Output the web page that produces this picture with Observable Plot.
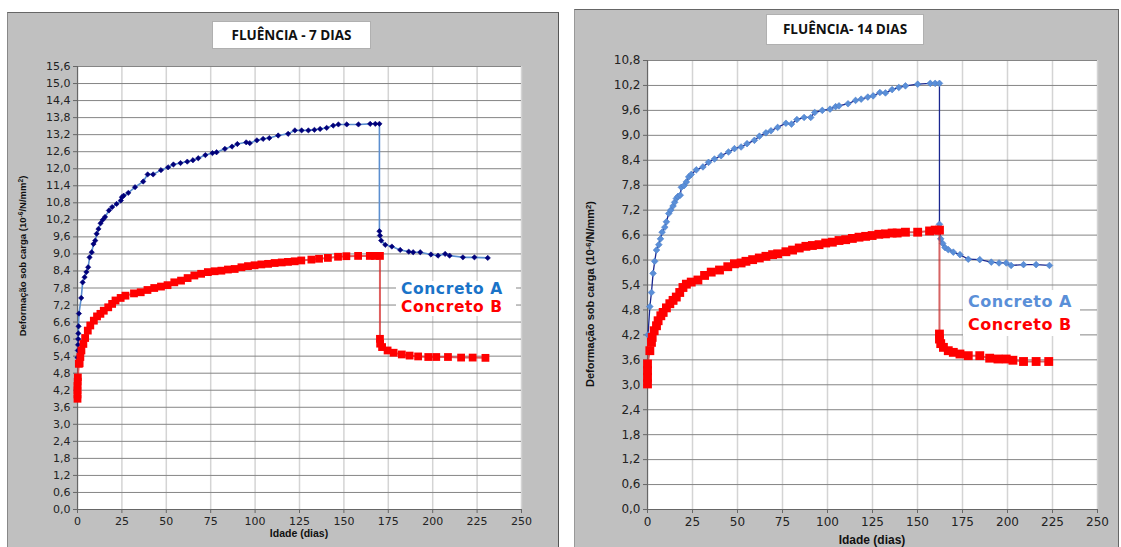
<!DOCTYPE html>
<html>
<head>
<meta charset="utf-8">
<script src="https://cdn.jsdelivr.net/npm/d3@7"></script>
<script src="https://cdn.jsdelivr.net/npm/@observablehq/plot@0.6"></script>
<style>
  html, body { margin: 0; padding: 0; background: #fff; width: 1121px; height: 547px; overflow: hidden; }
  .panel { position: absolute; background: #c0c0c0; box-sizing: border-box; }
  .panel svg { position: absolute; left: 0; top: 0; }
  .abs { position: absolute; white-space: nowrap; }
  .title { background: #fff; border: 1px solid #b0b0b0; font-family: "Open Sans", sans-serif; font-weight: 700; color: #111; text-align: center; box-sizing: border-box; }
  .ylab { font-family: "Liberation Sans", Arial, sans-serif; font-weight: 700; color: #111; transform: translate(-50%, -50%) rotate(-90deg); }
  .xlab { font-family: "Liberation Sans", Arial, sans-serif; font-weight: 700; color: #111; transform: translate(-50%, -50%); }
  .legend { background: #fff; font-family: "DejaVu Sans", sans-serif; font-weight: 700; box-sizing: border-box; padding-left: 5px; }
  sup { font-size: 70%; vertical-align: 0.45em; line-height: 0; }
</style>
</head>
<body>
<div id="p7" class="panel" style="left:7px; top:12px; width:552px; height:540px; border:1px solid #555; border-left-color:#888; border-top-color:#666;"></div>
<div id="p14" class="panel" style="left:574px; top:9px; width:545px; height:545px; border:1px solid #666; border-left-color:#999;"></div>

<div class="abs title" style="left:212px; top:21px; width:159px; height:28px; line-height:26px; font-size:13.5px;">FLUÊNCIA - 7 DIAS</div>
<div class="abs title" style="left:766px; top:14px; width:158px; height:31px; line-height:29px; font-size:13.5px;">FLUÊNCIA- 14 DIAS</div>

<div class="abs ylab" style="left:22px; top:256px; font-size:9.5px;">Deformação sob carga (10<sup>-6</sup>/N/mm<sup>2</sup>)</div>
<div class="abs ylab" style="left:590px; top:294px; font-size:11px;">Deformação sob carga (10<sup>-6</sup>/N/mm<sup>2</sup>)</div>

<div class="abs xlab" style="left:299px; top:533px; font-size:10.5px;">Idade (dias)</div>
<div class="abs xlab" style="left:872px; top:540px; font-size:12px;">Idade (dias)</div>

<div class="abs legend" style="left:396px; top:281px; width:120px; height:35px; font-size:15.5px; line-height:17.5px; letter-spacing:0.6px;">
  <div style="color:#1a73c8;">Concreto A</div>
  <div style="color:#ff0000;">Concreto B</div>
</div>
<div class="abs legend" style="left:963px; top:290px; width:117px; height:46px; font-size:16px; line-height:23px; letter-spacing:0.5px;">
  <div style="color:#5a8fd8;">Concreto A</div>
  <div style="color:#ff0000;">Concreto B</div>
</div>

<script>
// ---------- data: [idade (dias), deformação] ----------
const concretoA7 = [[0,5.35],[0.2,5.6],[0.3,5.8],[0.4,6.0],[0.5,6.2],[0.6,6.45],[0.8,6.9],[2.1,7.45],[2.9,8.0],[4,8.18],[5,8.36],[6,8.53],[6.8,8.88],[8,9.06],[9,9.35],[10,9.47],[10.8,9.71],[11.8,9.88],[13,10.08],[14.2,10.2],[15.5,10.3],[17.7,10.53],[19.5,10.65],[22,10.76],[24.4,10.88],[25,11.0],[26,11.05],[28.6,11.15],[32.4,11.35],[37,11.55],[39.5,11.8],[42.6,11.8],[47,11.95],[51,12.05],[54,12.15],[58,12.2],[61.8,12.25],[65,12.3],[68,12.37],[72,12.48],[76,12.55],[78.3,12.58],[83,12.7],[87,12.78],[90,12.87],[95,12.93],[97,12.9],[101,13.0],[104.5,13.05],[108,13.08],[113,13.17],[118.6,13.23],[122.4,13.35],[126.2,13.35],[130,13.35],[133.4,13.37],[136.6,13.4],[140.3,13.44],[144,13.52],[146.9,13.56],[151.6,13.56],[158.2,13.56],[164.8,13.58],[167.7,13.58],[170,13.58],[170,9.8],[170.3,9.65],[171,9.47],[173.3,9.32],[177,9.26],[181.7,9.14],[186.5,9.08],[189,9.06],[193,9.06],[199,8.98],[203,8.94],[207,9.0],[209.5,8.94],[217,8.88],[223.5,8.88],[231,8.86]];

const concretoB7 = [[0,3.9],[0,4.05],[0,4.2],[0,4.35],[0.1,4.5],[0.2,4.65],[0.75,5.13],[1.2,5.15],[1.6,5.37],[2.2,5.6],[3.3,5.83],[4.3,6.04],[5.8,6.3],[7.2,6.48],[9.2,6.65],[11,6.8],[12.9,6.89],[14.8,7.0],[17.3,7.12],[19.5,7.24],[21.4,7.36],[24.3,7.45],[27,7.53],[31.8,7.61],[35.6,7.65],[39.4,7.73],[43.2,7.8],[47,7.85],[50.7,7.9],[54.5,8.0],[58.3,8.06],[62,8.15],[65.8,8.24],[69.6,8.3],[73.4,8.36],[77.2,8.39],[81,8.41],[84.7,8.45],[88.5,8.47],[92.3,8.53],[96,8.57],[99.7,8.6],[103.5,8.63],[107.3,8.65],[111,8.68],[115,8.7],[118.5,8.72],[122.3,8.74],[126,8.77],[131.7,8.8],[136,8.83],[141,8.86],[146.7,8.9],[151.4,8.92],[158,8.93],[164.6,8.93],[167.5,8.93],[170.3,8.93],[170.3,6.01],[170.4,5.84],[171.5,5.72],[174.6,5.6],[178,5.52],[182.6,5.46],[187,5.42],[191.8,5.39],[197.5,5.37],[202,5.37],[208.6,5.37],[216,5.35],[222.5,5.35],[229.7,5.34]];

const concretoA14 = [[0.3,4.2],[1.3,4.88],[2.2,5.22],[3.1,5.68],[4,5.97],[5,6.24],[6.3,6.37],[7.2,6.51],[8.1,6.67],[9.6,6.79],[10.5,6.92],[11.8,7.12],[12.9,7.2],[14.2,7.3],[15.1,7.39],[16,7.48],[16.9,7.53],[18.2,7.56],[18.8,7.75],[20.3,7.79],[21.6,7.88],[22.9,8.0],[24.3,8.06],[27.1,8.17],[30.8,8.24],[33.9,8.35],[37.2,8.43],[40.9,8.51],[45,8.6],[48.3,8.68],[52,8.72],[55.3,8.8],[59.4,8.88],[62.2,8.98],[65.8,9.06],[68.6,9.11],[72.3,9.19],[76.9,9.29],[80,9.27],[83,9.38],[87,9.43],[90.7,9.43],[92.9,9.55],[97.1,9.6],[101.4,9.63],[104.5,9.69],[106.4,9.71],[111.4,9.76],[115.6,9.84],[118.7,9.87],[122.4,9.92],[125.4,9.95],[129.1,10.03],[132.2,10.02],[135.9,10.1],[139.6,10.15],[143.3,10.19],[150.1,10.23],[157.1,10.25],[159.8,10.25],[162.2,10.25],[162.2,6.86],[162.9,6.51],[164,6.4],[165.3,6.3],[167.1,6.25],[169.9,6.19],[173.6,6.13],[178.2,6.02],[184.6,6.01],[191,5.95],[195.3,5.93],[199.3,5.93],[202,5.87],[208.9,5.89],[215.9,5.89],[223.3,5.87]];

const concretoB14 = [[0,3.02],[0,3.18],[0,3.34],[0,3.5],[1.3,3.82],[2.2,4.02],[2.6,4.14],[3.7,4.3],[5,4.42],[5.9,4.54],[7.4,4.66],[8.7,4.74],[10.5,4.85],[12.4,4.95],[14.2,5.03],[16,5.11],[17.9,5.22],[19.7,5.34],[21.6,5.42],[24.3,5.47],[28,5.52],[31.7,5.63],[35.4,5.71],[40,5.76],[44.6,5.84],[48.3,5.91],[52,5.93],[54.7,5.97],[58.4,6.01],[62.1,6.05],[65.8,6.09],[69.5,6.13],[72.3,6.15],[76.9,6.2],[80.6,6.24],[84.3,6.29],[88,6.33],[91.6,6.35],[95.3,6.37],[99,6.41],[102.7,6.43],[106.4,6.47],[110.1,6.49],[113.8,6.52],[117.5,6.55],[121.2,6.57],[124.8,6.59],[128.5,6.62],[132.2,6.63],[135.9,6.65],[138.7,6.65],[143.3,6.67],[150.1,6.67],[156.7,6.7],[159.8,6.72],[162.2,6.72],[162.2,4.22],[162.2,4.1],[162.9,3.99],[164.4,3.9],[167.1,3.82],[169.9,3.78],[173.6,3.74],[178.2,3.7],[184.6,3.7],[190.1,3.64],[194.7,3.62],[199.3,3.62],[203,3.59],[208.9,3.56],[215.9,3.56],[222.9,3.56]];

// ---------- ticks ----------
const xTicks = [0, 25, 50, 75, 100, 125, 150, 175, 200, 225, 250];
const yTicks7 = [0,6,12,18,24,30,36,42,48,54,60,66,72,78,84,90,96,102,108,114,120,126,132,138,144,150,156].map(v => v / 10);
const yTicks14 = [0,6,12,18,24,30,36,42,48,54,60,66,72,78,84,90,96,102,108].map(v => v / 10);

const fmt = d => d.toFixed(1).replace(".", ",");

function chart(o) {
  const t = d => d[0], v = d => d[1];
  return Plot.plot({
    width: o.width, height: o.height,
    marginLeft: o.ml, marginRight: o.mr, marginTop: o.mt, marginBottom: o.mb,
    style: { background: "transparent", fontFamily: "'DejaVu Sans', sans-serif", fontSize: o.fs + "px", color: "#222", overflow: "visible" },
    x: { domain: [0, 250] },
    y: { domain: [0, o.yMax] },
    marks: [
      Plot.frame({ fill: "white", stroke: "#8a8a8a" }),
      Plot.gridX(xTicks, { stroke: "#d4d4d4", strokeOpacity: 1, strokeWidth: 1.5 }),
      Plot.gridY(o.yTicks, { stroke: "#858585", strokeOpacity: 1, strokeWidth: 1 }),
      Plot.ruleX([0], { stroke: "#666", strokeWidth: 1.2 }),
      Plot.ruleY([0], { stroke: "#666", strokeWidth: 1.2 }),
      Plot.axisX({ ticks: xTicks, tickSize: 4, tickPadding: 4, tickFormat: d => String(d), label: null, stroke: "#666" }),
      Plot.axisY({ ticks: o.yTicks, tickSize: 4, tickPadding: 3, tickFormat: fmt, label: null, stroke: "#666" }),
      Plot.line(o.A, { x: t, y: v, stroke: o.aLine, strokeWidth: o.aLineW, curve: "linear" }),
      Plot.dot(o.A, { x: t, y: v, symbol: "diamond2", r: o.aR, fill: o.aFill, stroke: o.aStroke, strokeWidth: 0.6 }),
      Plot.line(o.B, { x: t, y: v, stroke: o.bLine, strokeOpacity: 0.75, strokeWidth: 2 }),
      Plot.dot(o.B, { x: t, y: v, symbol: "square", r: o.bR, fill: "#ff0000", stroke: "none" })
    ]
  });
}

const c7 = chart({
  width: 550, height: 538, ml: 69, mr: 37, mt: 53, mb: 42, fs: 11,
  yMax: 15.6, yTicks: yTicks7, A: concretoA7, B: concretoB7,
  aLine: "#5b8fd0", aLineW: 1.6, aFill: "#00007a", aStroke: "#00007a", aR: 2.4,
  bLine: "#d42a2a", bR: 4.4
});
document.getElementById("p7").appendChild(c7);

const c14 = chart({
  width: 543, height: 543, ml: 72, mr: 21, mt: 50, mb: 44, fs: 12,
  yMax: 10.8, yTicks: yTicks14, A: concretoA14, B: concretoB14,
  aLine: "#1a2790", aLineW: 1.3, aFill: "#5a8fd8", aStroke: "#4a7cc8", aR: 3,
  bLine: "#c83030", bR: 5
});
document.getElementById("p14").appendChild(c14);
</script>
</body>
</html>
